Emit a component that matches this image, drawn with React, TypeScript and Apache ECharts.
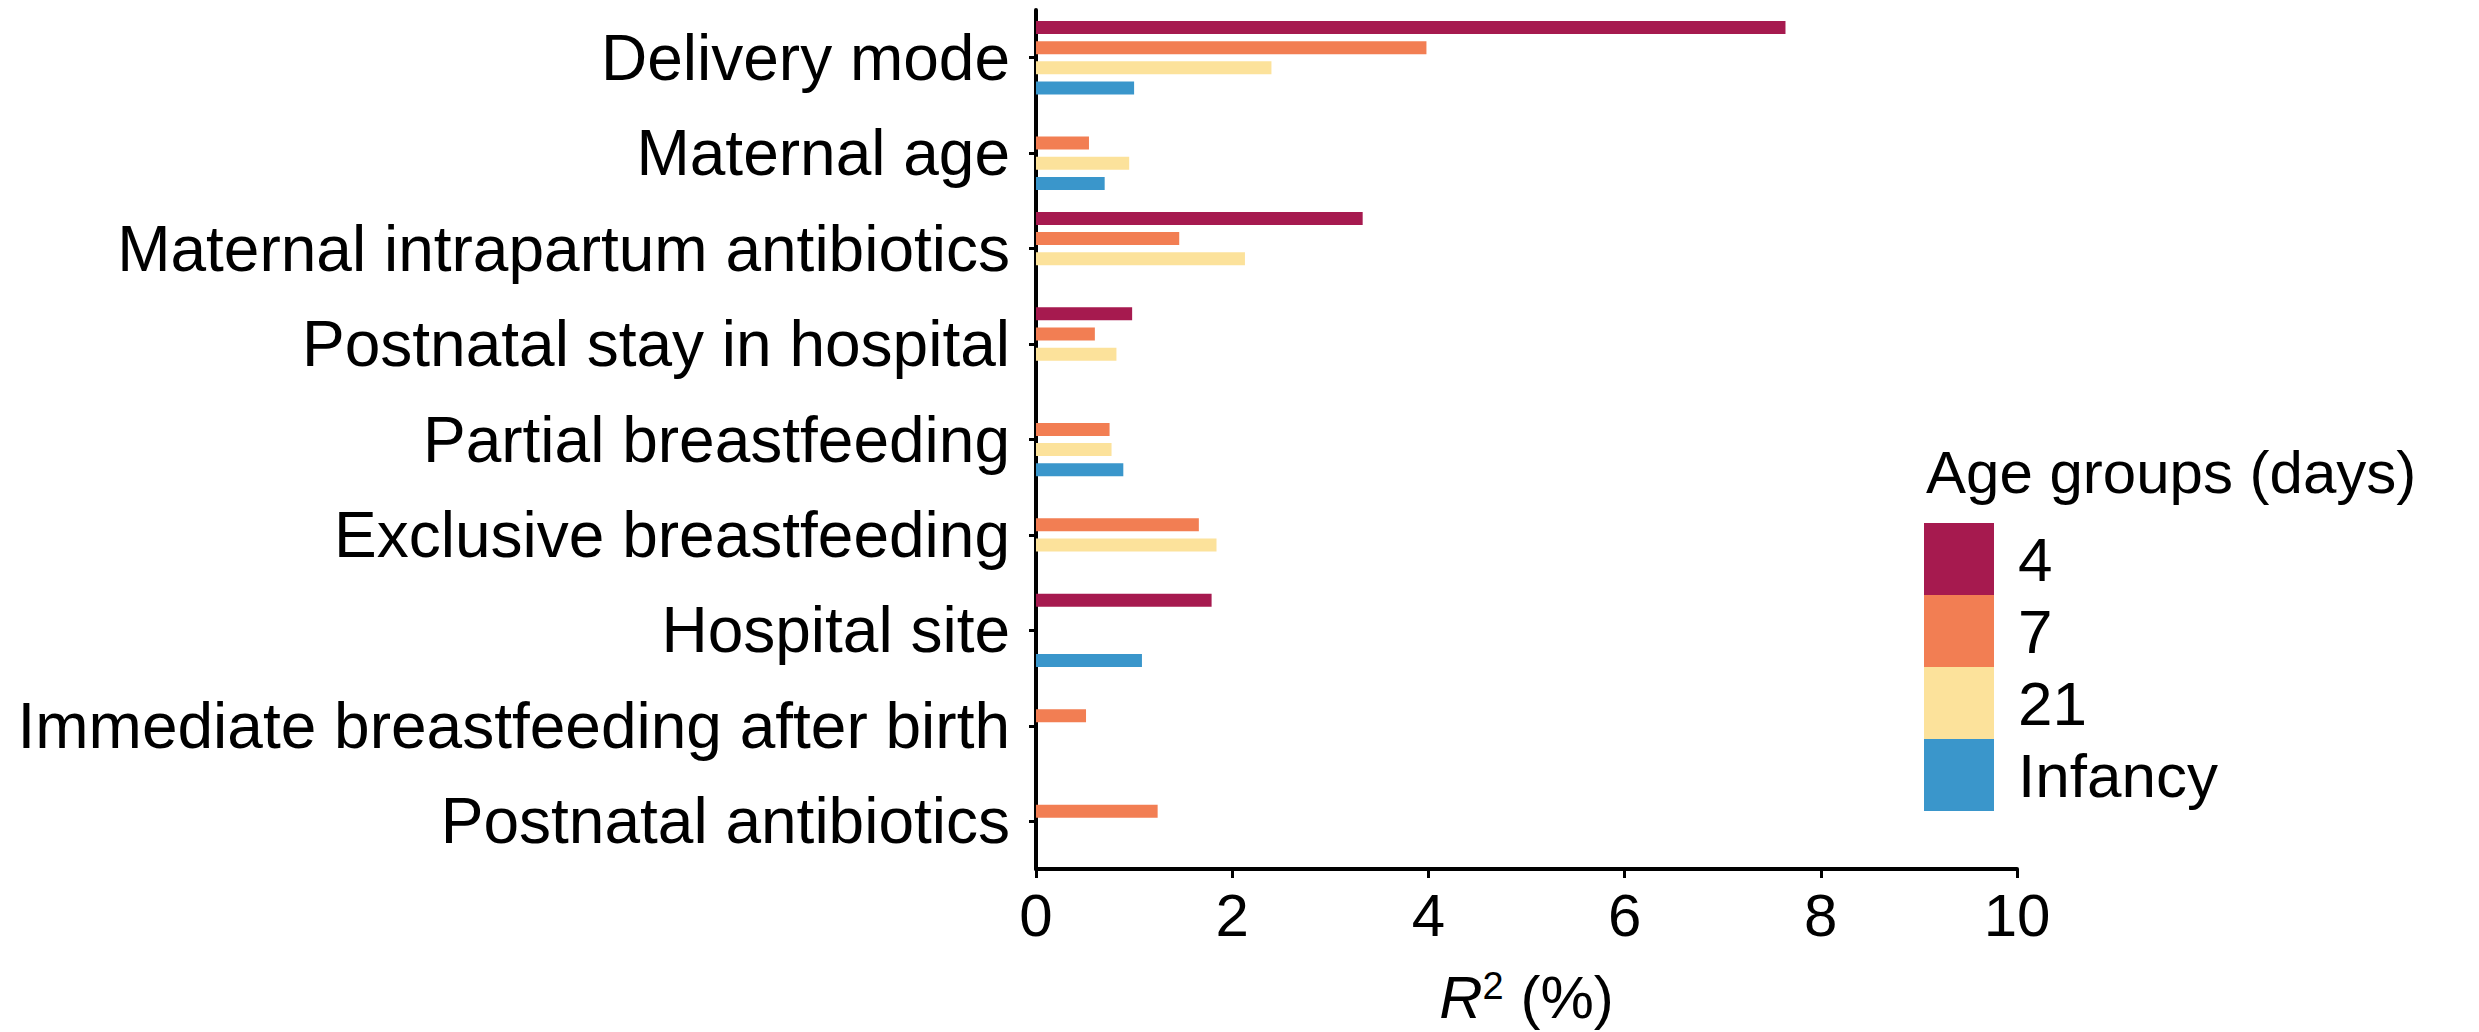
import React, { useEffect, useRef } from "react";
import * as echarts from "echarts";

const categories = [
  "Delivery mode",
  "Maternal age",
  "Maternal intrapartum antibiotics",
  "Postnatal stay in hospital",
  "Partial breastfeeding",
  "Exclusive breastfeeding",
  "Hospital site",
  "Immediate breastfeeding after birth",
  "Postnatal antibiotics",
];

const seriesNames = ["4", "7", "21", "Infancy"];
const day4 = [7.64, null, 3.33, 0.98, null, null, 1.79, null, null];
const day7 = [3.98, 0.54, 1.46, 0.6, 0.75, 1.66, null, 0.51, 1.24];
const day21 = [2.4, 0.95, 2.13, 0.82, 0.77, 1.84, null, null, null];
const infancy = [1.0, 0.7, null, null, 0.89, null, 1.08, null, null];
const colors = ["#A61A4F", "#F27E53", "#FCE29B", "#3A96CB"];
const xTicks = { min: 0, max: 10, interval: 2 };

const FONT = "'Liberation Sans', Arial, Helvetica, sans-serif";

export default function App() {
  const ref = useRef<HTMLDivElement>(null);
  useEffect(() => {
    if (!ref.current) return;
    const chart = echarts.init(ref.current, undefined, { renderer: "svg" });
    const values = [day4, day7, day21, infancy];
    chart.setOption({
      animation: false,
      backgroundColor: "#ffffff",
      textStyle: { fontFamily: FONT, color: "#000" },
      title: {
        text: "Age groups (days)",
        left: 1926,
        top: 442,
        padding: 0,
        textStyle: { fontFamily: FONT, fontSize: 60, fontWeight: "normal", color: "#000" },
      },
      legend: {
        orient: "vertical",
        left: 1924,
        top: 523,
        padding: 0,
        itemWidth: 70,
        itemHeight: 72,
        itemGap: 0,
        icon: "rect",
        selectedMode: false,
        data: seriesNames,
        textStyle: { fontFamily: FONT, fontSize: 62, color: "#000", padding: [0, 0, 0, 19] },
      },
      grid: { left: 1036, top: 10, right: 462, bottom: 163, containLabel: false },
      xAxis: {
        type: "value",
        min: xTicks.min,
        max: xTicks.max,
        interval: xTicks.interval,
        splitLine: { show: false },
        axisLine: { show: true, lineStyle: { color: "#000", width: 4 } },
        axisTick: { show: true, length: 9, lineStyle: { color: "#000", width: 3 } },
        axisLabel: { fontFamily: FONT, fontSize: 60, color: "#000", margin: 16 },
        name: "{r|R}{s|2}{n| (%)}",
        nameLocation: "middle",
        nameGap: 98,
        nameTextStyle: {
          fontFamily: FONT,
          fontSize: 60,
          color: "#000",
          rich: {
            r: { fontFamily: FONT, fontSize: 60, fontStyle: "italic", color: "#000" },
            s: { fontFamily: FONT, fontSize: 38, color: "#000", verticalAlign: "top", lineHeight: 60 },
            n: { fontFamily: FONT, fontSize: 60, color: "#000" },
          },
        },
      },
      yAxis: {
        type: "category",
        inverse: true,
        data: categories,
        axisLine: { show: true, lineStyle: { color: "#000", width: 4 } },
        axisTick: { show: true, alignWithLabel: true, length: 7, lineStyle: { color: "#000", width: 3 } },
        axisLabel: { fontFamily: FONT, fontSize: 64, color: "#000", margin: 26 },
      },
      series: seriesNames.map((name, i) => ({
        name,
        type: "bar",
        data: values[i],
        barWidth: 13,
        barGap: "55%",
        itemStyle: { color: colors[i] },
      })),
      color: colors,
    });
    return () => chart.dispose();
  }, []);
  return (
    <div
      ref={ref}
      style={{ position: "fixed", left: 0, top: 0, width: 2479, height: 1032 }}
    />
  );
}
